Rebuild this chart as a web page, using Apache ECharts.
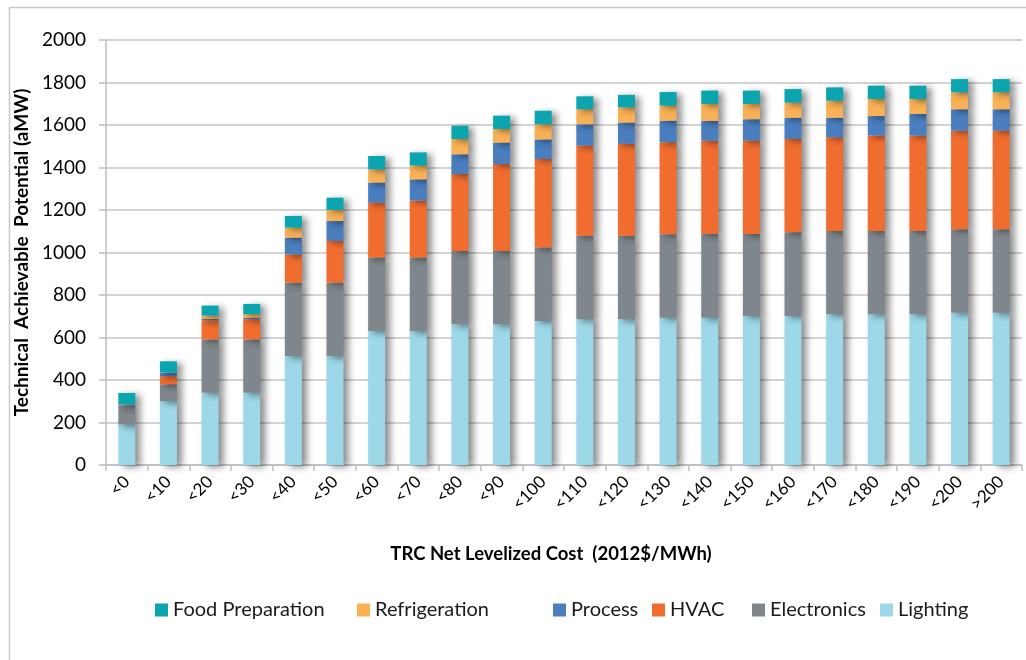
<!DOCTYPE html>
<html>
<head>
<meta charset="utf-8">
<script src="https://cdn.jsdelivr.net/npm/echarts@6/dist/echarts.min.js"></script>
<style>
html, body { margin: 0; padding: 0; background: #fff; }
#chart { width: 1026px; height: 660px; }
</style>
</head>
<body>
<div id="chart"></div>
<script>
// values (aMW)
const categories = ['<0', '<10', '<20', '<30', '<40', '<50', '<60', '<70', '<80', '<90', '<100',
    '<110', '<120', '<130', '<140', '<150', '<160', '<170', '<180', '<190', '<200', '>200']

const lighting = [190, 300, 340, 340, 513, 513, 631, 631, 662, 662, 678,
    686, 686, 693, 693, 701, 701, 709, 709, 709, 717, 717]
const electronics = [88, 80, 251, 251, 345, 345, 345, 346, 345, 345, 345,
    393, 393, 393, 394, 386, 394, 392, 392, 392, 392, 392]
const hvac = [2, 38, 90, 95, 133, 196, 258, 267, 362, 409, 417,
    424, 432, 433, 439, 439, 439, 441, 449, 449, 464, 464]
const process = [3, 15, 6, 7, 79, 94, 95, 100, 93, 101, 92,
    100, 100, 101, 93, 101, 100, 92, 92, 102, 101, 101]
const refrigeration = [1, 2, 16, 16, 47, 52, 62, 65, 72, 64, 71,
    71, 72, 71, 80, 72, 71, 80, 80, 70, 80, 80]
const foodPrep = [55, 53, 47, 49, 55, 58, 63, 62, 63, 63, 64,
    61, 59, 64, 63, 63, 64, 63, 63, 63, 62, 62]

const yTicks = { min: 0, max: 2000, interval: 200 }

const fontFamily = 'Lato'

const seriesDefs = [
    { name: 'Lighting', data: lighting, color: '#9dd8e8' },
    { name: 'Electronics', data: electronics, color: '#7f878c' },
    { name: 'HVAC', data: hvac, color: '#f06d2f' },
    { name: 'Process', data: process, color: '#4a7ebf' },
    { name: 'Refrigeration', data: refrigeration, color: '#f9b157' },
    { name: 'Food Preparation', data: foodPrep, color: '#0aa5ae' }
]

// Excel puts the legend entries in fixed slots, so one legend per entry
const legendSlots = [
    ['Food Preparation', 155],
    ['Refrigeration', 357],
    ['Process', 553],
    ['HVAC', 652],
    ['Electronics', 752],
    ['Lighting', 880]
]

const chart = echarts.init(document.getElementById('chart'))

chart.setOption({
    animation: false,
    backgroundColor: '#fff',
    textStyle: { fontFamily },
    graphic: [{
        type: 'rect',
        left: 7,
        top: 5,
        shape: { width: 1030, height: 670 },
        style: { fill: 'none', stroke: '#c8c8c8', lineWidth: 1.5 },
        silent: true
    }],
    legend: legendSlots.map(([name, left]) => ({
        data: [name],
        left,
        top: 600,
        padding: 0,
        itemWidth: 13,
        itemHeight: 13,
        itemGap: 0,
        icon: 'rect',
        textStyle: { fontFamily, fontSize: 20, color: '#1a1a1a' }
    })),
    grid: {
        left: 106,
        right: 4,
        top: 40,
        bottom: 195
    },
    xAxis: {
        type: 'category',
        data: categories,
        name: 'TRC Net Levelized Cost  (2012$/MWh)',
        nameLocation: 'middle',
        nameGap: 80,
        nameTextStyle: { fontFamily, fontSize: 18.5, fontWeight: 'bold', color: '#000', padding: [0, 26, 0, 0] },
        axisLine: { lineStyle: { color: '#bfbfbf', width: 1.5 } },
        axisTick: { show: true, length: 6, lineStyle: { color: '#bfbfbf', width: 1.5 } },
        axisLabel: { rotate: 45, margin: 14, fontSize: 17, color: '#000', interval: 0 }
    },
    yAxis: {
        type: 'value',
        min: yTicks.min,
        max: yTicks.max,
        interval: yTicks.interval,
        name: 'Technical  Achievable  Potential (aMW)',
        nameLocation: 'middle',
        nameGap: 70,
        nameTextStyle: { fontFamily, fontSize: 19, fontWeight: 'bold', color: '#000' },
        axisLine: { show: true, lineStyle: { color: '#bfbfbf', width: 1.5 } },
        axisTick: { show: true, length: 7, lineStyle: { color: '#bfbfbf', width: 1.5 } },
        axisLabel: { fontSize: 19, color: '#000', margin: 20, formatter: v => String(v) },
        splitLine: { lineStyle: { color: '#c4c4c4', width: 1.5 } }
    },
    series: seriesDefs.map(s => ({
        name: s.name,
        type: 'bar',
        stack: 'total',
        data: s.data,
        barWidth: 17,
        itemStyle: {
            color: s.color,
            shadowColor: 'rgba(0,0,0,0.45)',
            shadowBlur: 7,
            shadowOffsetX: 5,
            shadowOffsetY: 2
        }
    }))
})
</script>
</body>
</html>
